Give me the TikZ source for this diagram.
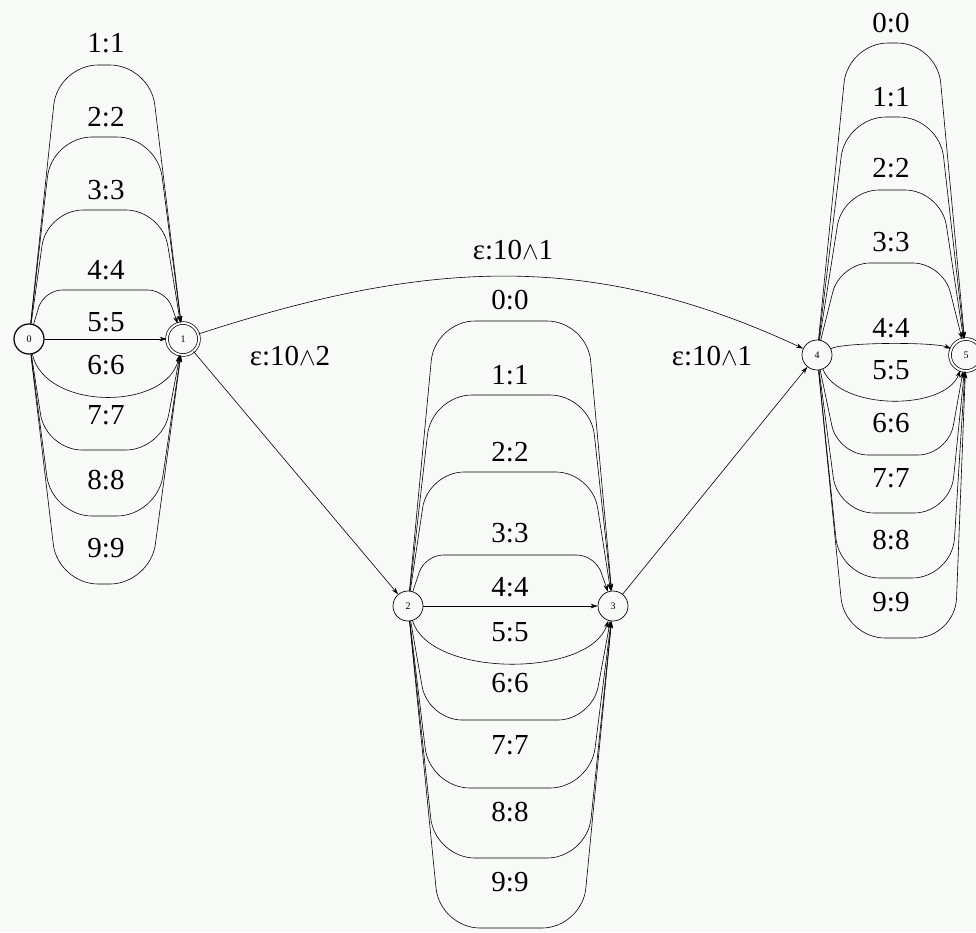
\documentclass[tikz,border=0pt]{standalone}
\usepackage{fontspec}
\setmainfont{Liberation Serif}
\usetikzlibrary{arrows.meta}
\definecolor{bgc}{HTML}{F7FAF7}
\begin{document}
\begin{tikzpicture}[x=1pt,y=-1pt,
  st/.style={circle,draw,line width=0.7pt,minimum size=30pt,inner sep=0pt,font=\fontsize{10}{10}\selectfont},
  fin/.style={st,double,double distance=2pt,minimum size=32pt},
  ini/.style={st,line width=1.2pt},
  ed/.style={draw,line width=0.6pt,-{Stealth[length=7pt,width=4.5pt]}},
  lab/.style={font=\fontsize{29}{30}\selectfont,inner sep=0pt}]
\fill[bgc] (0,0) rectangle (976,932);
\useasboundingbox (0,0) rectangle (976,932);
% states
\node[ini] (n0) at (29,339) {0};
\node[fin] (n1) at (183,339) {1};
\node[st]  (n2) at (408,606) {2};
\node[st]  (n3) at (613,606) {3};
\node[st]  (n4) at (817,355) {4};
\node[fin] (n5) at (966,355) {5};
% ---- left group 0 -> 1
\foreach \i/\yy/\xl/\xr/\r/\ly in {1/65/58/150/40/43, 2/137/52/157/40/117, 3/210/47/162/36/190,
                                  7/450/46/162/36/415, 8/516/52/157/40/480, 9/584/58/150/40/548} {
  \draw[ed,rounded corners=\r pt] (n0) -- (\xl,\yy) -- (\xr,\yy) -- (n1);
  \node[lab] (La\i) at (106,\ly) {\i:\i};
}
\draw[ed,rounded corners=18pt] (n0) -- (44,290) -- (166,290) -- (n1);
\node[lab] (La4) at (106,270) {4:4};
\draw[ed] (n0) -- (n1);
\node[lab] (La5) at (106,322) {5:5};
\draw[ed] (n0) .. controls (45,411) and (167,411) .. (n1);
\node[lab] (La6) at (106,365) {6:6};
% ---- middle group 2 -> 3
\foreach \i/\yy/\xl/\xr/\r/\ly in {0/321/435/587/40/300, 1/395/432/590/40/375, 2/472/428/592/36/452,
                                  6/720/428/592/34/683, 7/788/430/590/40/745, 8/858/435/587/40/812, 9/928/440/582/40/882} {
  \draw[ed,rounded corners=\r pt] (n2) -- (\xl,\yy) -- (\xr,\yy) -- (n3);
  \node[lab] (Lb\i) at (510,\ly) {\i:\i};
}
\draw[ed,rounded corners=18pt] (n2) -- (425,555) -- (595,555) -- (n3);
\node[lab] (Lb3) at (510,533) {3:3};
\draw[ed] (n2) -- (n3);
\node[lab] (Lb4) at (510,587) {4:4};
\draw[ed] (n2) .. controls (430,678) and (590,678) .. (n3);
\node[lab] (Lb5) at (510,632) {5:5};
% ---- right group 4 -> 5
\foreach \i/\yy/\xl/\xr/\r/\ly in {0/43/848/937/40/23, 1/117/846/939/40/97, 2/190/843/941/36/168, 3/263/840/943/30/242,
                                  6/455/838/948/30/423, 7/513/838/950/36/478, 8/578/840/952/40/540, 9/638/845/955/40/602} {
  \draw[ed,rounded corners=\r pt] (n4) -- (\xl,\yy) -- (\xr,\yy) -- (n5);
  \node[lab] (Lc\i) at (891,\ly) {\i:\i};
}
\draw[ed] (n4) .. controls (845,342) and (935,342) .. (n5);
\node[lab] (Lc4) at (891,328) {4:4};
\draw[ed] (n4) .. controls (840,411) and (945,411) .. (n5);
\node[lab] (Lc5) at (891,370) {5:5};
% ---- epsilon transitions
\draw[ed] (n1) to[out=18,in=155] (n4);
\node[lab] (Le1) at (513,250) {ε:10$\wedge$1};
\draw[ed] (n1) -- (n2);
\node[lab] (Le2) at (290,356) {ε:10$\wedge$2};
\draw[ed] (n3) -- (n4);
\node[lab] (Le3) at (712,356) {ε:10$\wedge$1};
\end{tikzpicture}
\end{document}
